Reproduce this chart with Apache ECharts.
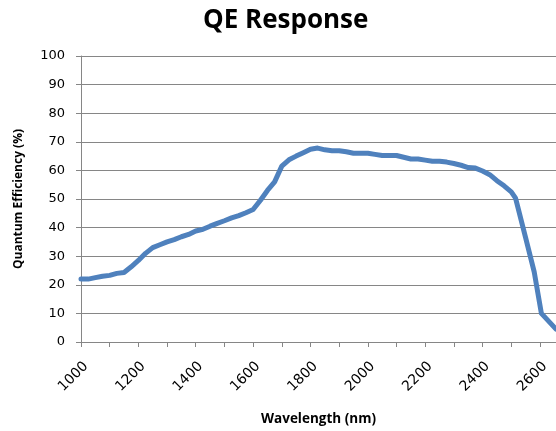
<!DOCTYPE html>
<html>
<head>
<meta charset="utf-8">
<title>QE Response</title>
<script src="https://cdn.jsdelivr.net/npm/echarts@6/dist/echarts.min.js"></script>
<style>
  html, body { margin: 0; padding: 0; background: #fff; }
  #chart { width: 556px; height: 431px; }
</style>
</head>
<body>
<div id="chart"></div>
<script>
// wavelength (nm) and quantum efficiency (%)
const wavelength = [1000, 1025, 1050, 1075, 1100, 1125, 1150, 1175, 1200, 1225, 1250, 1275, 1300, 1325, 1350, 1375,
  1400, 1425, 1450, 1475, 1500, 1525, 1550, 1575, 1600, 1625, 1650, 1675, 1700, 1725, 1750, 1775, 1800, 1825,
  1850, 1875, 1900, 1925, 1950, 1975, 2000, 2025, 2050, 2075, 2100, 2125, 2150, 2175, 2200, 2225, 2250, 2275,
  2300, 2325, 2350, 2375, 2400, 2425, 2450, 2475, 2500, 2515, 2550, 2580, 2605, 2656]
const qe = [22, 22, 22.5, 23, 23.3, 24, 24.3, 26.3, 28.5, 31, 33, 34, 35, 35.8, 36.8, 37.6,
  38.8, 39.4, 40.5, 41.5, 42.4, 43.4, 44.2, 45.2, 46.3, 49.5, 53, 56, 61.5, 63.7, 65, 66.2, 67.4, 67.8,
  67.2, 66.9, 66.9, 66.5, 66, 66, 66, 65.6, 65.2, 65.2, 65.2, 64.6, 64, 64, 63.6, 63.2, 63.2, 62.9,
  62.4, 61.8, 61, 60.8, 59.8, 58.5, 56.4, 54.6, 52.5, 50.3, 36.5, 24.5, 10, 4.5]
const yTicks = [0, 10, 20, 30, 40, 50, 60, 70, 80, 90, 100]

const chart = echarts.init(document.getElementById('chart'))

const axisGray = '#868686'

const option = {
  animation: false,
  title: {
    text: 'QE Response',
    left: 198,
    top: 3,
    textStyle: {
      fontFamily: 'Open Sans',
      fontWeight: 'bold',
      fontSize: 26,
      color: '#000'
    }
  },
  grid: {
    left: 81,
    right: 0,
    top: 56,
    bottom: 88
  },
  xAxis: {
    type: 'value',
    min: 1000,
    max: 2656,
    interval: 100,
    name: 'Wavelength (nm)',
    nameLocation: 'middle',
    nameGap: 70,
    nameMoveOverlap: false,
    nameTextStyle: {
      fontFamily: 'Open Sans',
      fontWeight: 'bold',
      fontSize: 13.5,
      color: '#000'
    },
    axisLine: { lineStyle: { color: axisGray, width: 1 } },
    axisTick: { show: true, length: 5, inside: false, lineStyle: { color: axisGray } },
    splitLine: { show: false },
    axisLabel: {
      rotate: 45,
      margin: 27,
      padding: [0, -7, 0, 0],
      showMaxLabel: false,
      fontFamily: 'DejaVu Sans',
      fontSize: 14,
      color: '#000',
      formatter: v => (v % 200 === 0 ? String(v) : '')
    }
  },
  yAxis: {
    type: 'value',
    min: yTicks[0],
    max: yTicks[yTicks.length - 1],
    interval: 10,
    name: 'Quantum Efficiency (%)',
    nameLocation: 'middle',
    nameGap: 56,
    nameMoveOverlap: false,
    nameTextStyle: {
      fontFamily: 'Open Sans',
      fontWeight: 'bold',
      fontSize: 12,
      color: '#000'
    },
    axisLine: { show: true, lineStyle: { color: axisGray, width: 1 } },
    axisTick: { show: true, length: 5, lineStyle: { color: axisGray } },
    splitLine: { show: true, lineStyle: { color: axisGray, width: 1 } },
    axisLabel: {
      margin: 16,
      fontFamily: 'DejaVu Sans',
      fontSize: 13,
      color: '#000'
    }
  },
  series: [
    {
      name: 'QE',
      type: 'line',
      showSymbol: false,
      smooth: false,
      lineStyle: { color: '#4f81bd', width: 5, cap: 'round', join: 'round' },
      data: wavelength.map((w, i) => [w, qe[i]])
    }
  ]
}

chart.setOption(option)
</script>
</body>
</html>
